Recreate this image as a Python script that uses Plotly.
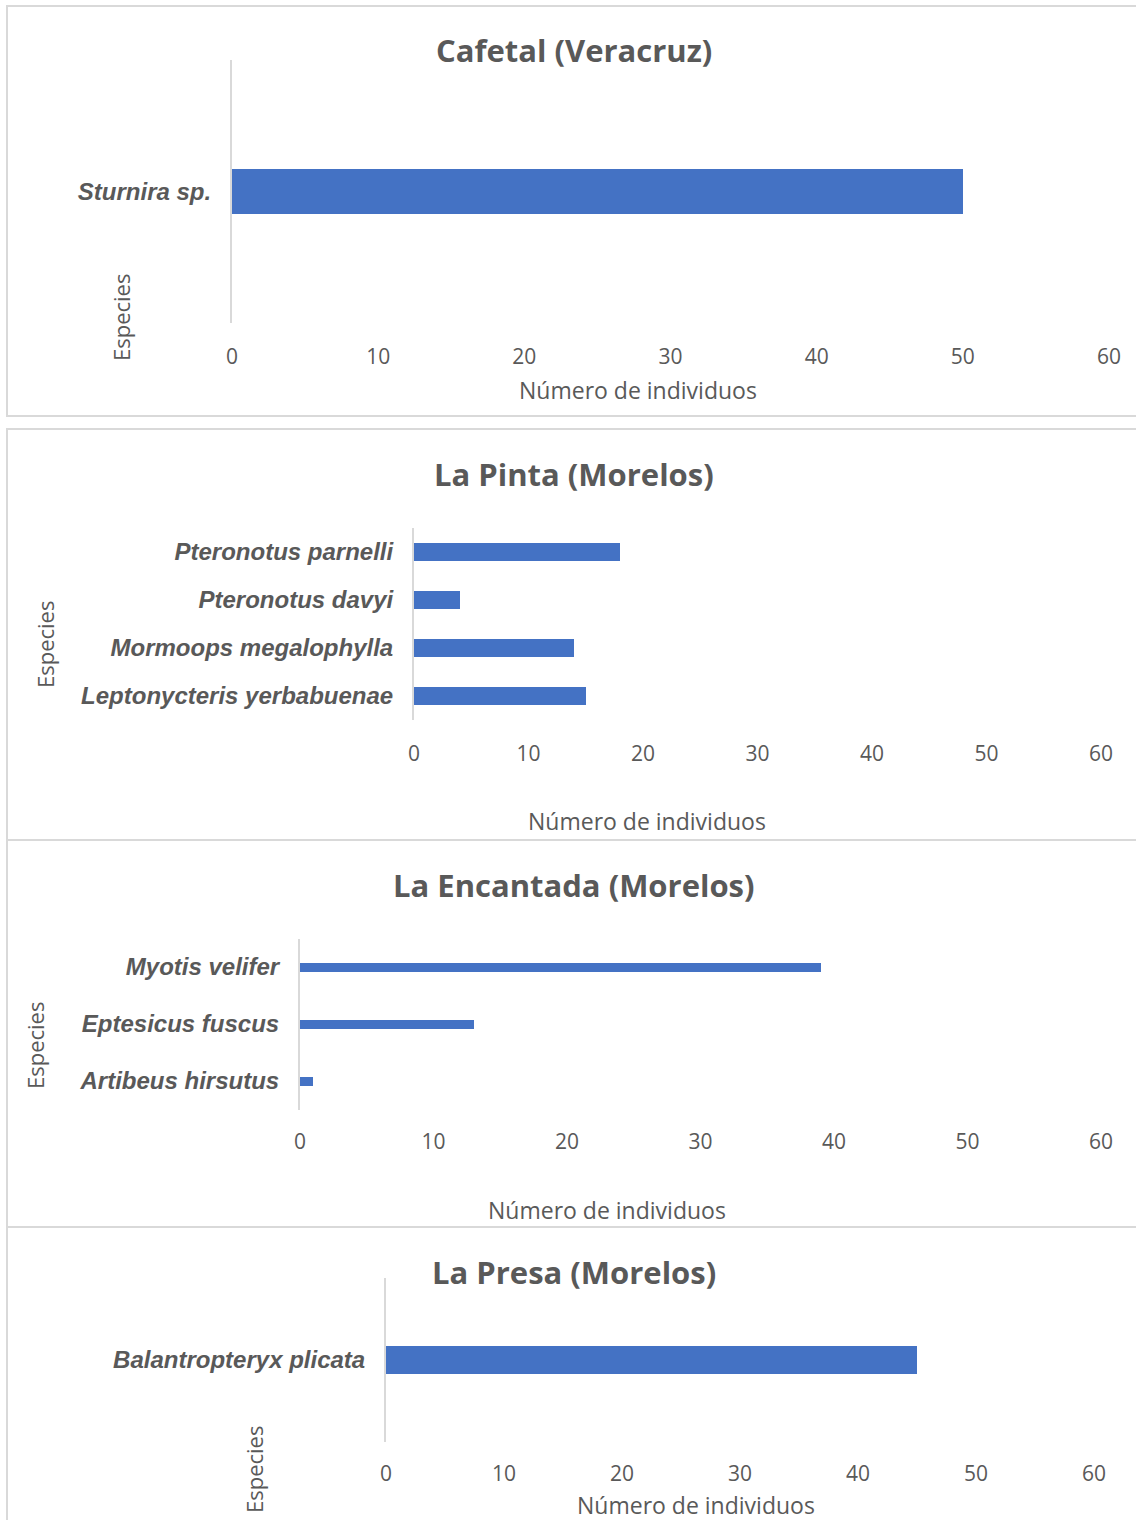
import plotly.graph_objects as go

# Species counts per site (top-to-bottom order as shown)
sites = ["Cafetal (Veracruz)", "La Pinta (Morelos)", "La Encantada (Morelos)", "La Presa (Morelos)"]

cafetal_species = ["Sturnira sp."]
cafetal_counts = [50]

pinta_species = ["Pteronotus parnelli", "Pteronotus davyi", "Mormoops megalophylla", "Leptonycteris yerbabuenae"]
pinta_counts = [18, 4, 14, 15]

encantada_species = ["Myotis velifer", "Eptesicus fuscus", "Artibeus hirsutus"]
encantada_counts = [39, 13, 1]

presa_species = ["Balantropteryx plicata"]
presa_counts = [45]

x_ticks = [0, 10, 20, 30, 40, 50, 60]
x_title = "Número de individuos"
y_title = "Especies"

W, H = 1136, 1520
BAR = "#4472c4"
GRID = "#d9d9d9"
TXT = "#595959"
NUM_FONT = "Open Sans"
CAT_FONT = "Liberation Sans"


def px(x):
    return x / W


def py(y):
    return 1 - y / H


panels = [
    # data, plot box (left, right, top, bottom) in px, bar width, tick standoff,
    # title y, axis-title pos, y-title pos, frame (left, top, bottom)
    dict(species=cafetal_species, counts=cafetal_counts, box=(232, 1109, 60, 323), bw=0.171, so=19,
         title_y=50, xt=(638, 390), yt=(121, 318), frame=(7, 6, 416)),
    dict(species=pinta_species, counts=pinta_counts, box=(414, 1101, 528, 720), bw=0.36, so=19,
         title_y=474, xt=(647, 821), yt=(45, 645), frame=(7, 429, 840)),
    dict(species=encantada_species, counts=encantada_counts, box=(300, 1101, 938.5, 1109.5), bw=0.175, so=17,
         title_y=885, xt=(607, 1210), yt=(35, 1046), frame=(7, 840, 1227)),
    dict(species=presa_species, counts=presa_counts, box=(386, 1094, 1278, 1442), bw=0.165, so=17,
         title_y=1272, xt=(696, 1505), yt=(254, 1470), frame=(7, 1227, 1530)),
]

fig = go.Figure()
annotations = []
shapes = []

for i, (site, p) in enumerate(zip(sites, panels), start=1):
    sfx = "" if i == 1 else str(i)
    left, right, top, bottom = p["box"]
    fig.add_trace(go.Bar(
        x=p["counts"], y=p["species"], orientation="h",
        width=p["bw"], marker=dict(color=BAR, line=dict(width=0)),
        xaxis="x" + sfx, yaxis="y" + sfx, showlegend=False,
    ))
    fig.layout["xaxis" + sfx] = dict(
        domain=[px(left), px(right)], anchor="y" + sfx, range=[0, 60],
        tickvals=x_ticks, showgrid=False, zeroline=False, showline=False,
        ticks="", tickfont=dict(family=NUM_FONT, size=21, color=TXT),
        ticklabelstandoff=p["so"], automargin=False, fixedrange=True,
    )
    fig.layout["yaxis" + sfx] = dict(
        domain=[py(bottom), py(top)], anchor="x" + sfx, type="category",
        categoryorder="array", categoryarray=p["species"], autorange="reversed",
        showgrid=False, zeroline=False, showline=True, linecolor=GRID, linewidth=2,
        ticks="", tickfont=dict(family=CAT_FONT, size=24, color=TXT, weight="bold", style="italic"),
        ticklabelstandoff=14, automargin=False, fixedrange=True,
    )
    # chart title
    annotations.append(dict(
        text="<b>%s</b>" % site, x=px(574), y=py(p["title_y"]), xref="paper", yref="paper",
        showarrow=False, xanchor="center", yanchor="middle",
        font=dict(family=NUM_FONT, size=31, color=TXT),
    ))
    # x-axis title
    annotations.append(dict(
        text=x_title, x=px(p["xt"][0]), y=py(p["xt"][1]), xref="paper", yref="paper",
        showarrow=False, xanchor="center", yanchor="middle",
        font=dict(family=NUM_FONT, size=23, color=TXT),
    ))
    # y-axis title
    annotations.append(dict(
        text=y_title, x=px(p["yt"][0]), y=py(p["yt"][1]), xref="paper", yref="paper",
        showarrow=False, xanchor="center", yanchor="middle", textangle=-90,
        font=dict(family=NUM_FONT, size=22, color=TXT),
    ))
    # chart frame
    fl, ft, fb = p["frame"]
    shapes.append(dict(
        type="rect", xref="paper", yref="paper",
        x0=px(fl), x1=px(1150), y0=py(fb), y1=py(ft),
        line=dict(color=GRID, width=2), fillcolor="rgba(0,0,0,0)", layer="below",
    ))

fig.update_layout(
    width=W, height=H, margin=dict(l=0, r=0, t=0, b=0, autoexpand=False),
    paper_bgcolor="white", plot_bgcolor="white",
    annotations=annotations, shapes=shapes, bargap=0,
)

fig.write_html("out.html")
